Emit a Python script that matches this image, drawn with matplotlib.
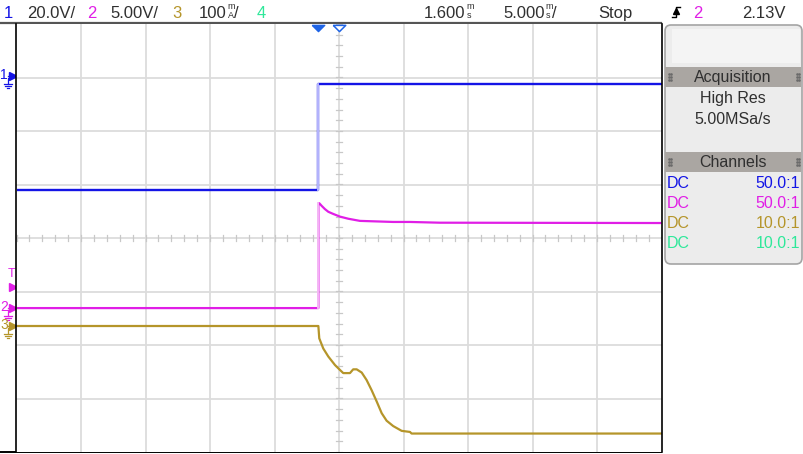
"""
Scope capture: SSR MOSFET pair switching, VGS and relay coil current.
"""

import numpy as np
import matplotlib
matplotlib.use("Agg")
import matplotlib.pyplot as plt
from matplotlib.patches import FancyBboxPatch, Rectangle


# scope settings
TIME_PER_DIV = 5.0      # ms/div
TIME_DELAY = 1.6        # ms at screen centre
CH1_SCALE = 20.0        # V/div
CH2_SCALE = 5.0         # V/div
CH3_SCALE = 100.0       # mA/div
CH1_OFFSET = 3.03       # ground level, divisions from centre
CH2_OFFSET = -1.31
CH3_OFFSET = -1.645
TRIG_LEVEL = 2.13       # V on channel 2

# channel 1: voltage across SSR MOSFET pair (V)
ch1_time = [-23.4, 0.0, 0.0, 26.6]
ch1_volts = [-42.8, -42.8, -3.0, -3.0]

# channel 2: VGS of MOSFET (V)
ch2_time = [-23.4, 0.0, 0.0, 0.07, 0.26, 0.51, 0.77, 1.15, 1.67, 2.32,
            3.22, 5.80, 7.10, 9.42, 26.6]
ch2_volts = [0.0, 0.0, 9.8, 9.8, 9.55, 9.25, 9.0, 8.8, 8.55, 8.35,
             8.15, 8.05, 8.05, 7.98, 7.95]

# channel 3: relay coil current (mA)
ch3_time = [-23.4, 0.0, 0.07, 0.38, 0.77, 1.29, 1.67, 1.93, 2.45, 2.70,
            2.97, 3.36, 3.74, 4.13, 4.52, 4.91, 5.29, 5.80, 6.46, 7.10,
            7.23, 26.6]
ch3_ma = [0, 0, -23, -42, -57, -73, -82, -88, -88, -81,
          -81, -87, -101, -120, -141, -163, -177, -187, -196, -198,
          -201, -201]

top_labels = ["20.0V/", "5.00V/", "100", "4"]
channel_coupling = ["DC", "DC", "DC", "DC"]
channel_probe = ["50.0:1", "50.0:1", "10.0:1", "10.0:1"]

BLUE = "#1414e6"
BLUE_LIGHT = "#c4c4ff"
MAGENTA = "#e01ee6"
MAGENTA_LIGHT = "#f6c2f6"
GOLD = "#b5952a"
GREEN = "#2ee89a"
TEXT = "#303030"
GRID = "#dcdcdc"

UI_FONT = ["Liberation Sans Narrow", "Liberation Sans", "DejaVu Sans"]
LABEL_FONT = ["Liberation Sans", "DejaVu Sans"]


def t_div(t):
    return (np.asarray(t, dtype=float) - TIME_DELAY) / TIME_PER_DIV


def v_div(v, scale, offset):
    return np.asarray(v, dtype=float) / scale + offset


def ground(ax, x, y, color):
    """Small ground symbol under a channel marker."""
    ax.plot([x, x], [y, y + 6], color=color, lw=0.9)
    for i, half in enumerate([4, 2.7, 1.3]):
        ax.plot([x - half, x + half], [y + 6 + 2 * i] * 2, color=color, lw=0.9)


def channel_marker(ax, label, y, color):
    ax.text(4, y - 1, label, color=color, fontsize=10, family=UI_FONT,
            ha="center", va="center")
    ax.plot([8, 12], [y, y], color=color, lw=0.9)
    ax.plot([13.5], [y], marker=">", ms=6, color=color, mec=color)
    ground(ax, 8, y + 2, color)


def right_edge(txt):
    """Right edge of a drawn text, in ui pixel x."""
    bb = txt.get_window_extent(renderer=renderer)
    return ui.transData.inverted().transform((bb.x1, bb.y0))[0]


def unit_stack(x, top, bottom):
    ui.text(x, 9, top, color=TEXT, fontsize=6.5, family=UI_FONT, ha="left")
    ui.text(x, 17.5, bottom, color=TEXT, fontsize=6.5, family=UI_FONT,
            ha="left")
    return x + 6


fig = plt.figure(figsize=(8.04, 4.54), dpi=100)
renderer = fig.canvas.get_renderer()

# pixel-space layer for the scope UI chrome
ui = fig.add_axes([0, 0, 1, 1])
ui.set_xlim(0, 804)
ui.set_ylim(454, 0)
ui.axis("off")

# graticule
ax = fig.add_axes([16.5 / 804, 2 / 454, 645 / 804, 428 / 454])
ax.set_xlim(-5, 5)
ax.set_ylim(-4, 4)
ax.set_xticks([])
ax.set_yticks([])
for side in ["top", "bottom"]:
    ax.spines[side].set_visible(False)
for side in ["left", "right"]:
    ax.spines[side].set_color("black")
    ax.spines[side].set_linewidth(1.2)

for x in range(-4, 5):
    ax.axvline(x, color=GRID, lw=1.3, zorder=0)
for y in range(-3, 4):
    ax.axhline(y, color=GRID, lw=1.3, zorder=0)
for x in np.arange(-5, 5.01, 0.2):
    ax.plot([x, x], [-0.06, 0.06], color="#c8c8c8", lw=0.9, zorder=0)
for y in np.arange(-4, 4.01, 0.2):
    ax.plot([-0.05, 0.05], [y, y], color="#c8c8c8", lw=0.9, zorder=0)

# traces
x1, y1 = t_div(ch1_time), v_div(ch1_volts, CH1_SCALE, CH1_OFFSET)
ax.plot(x1, y1, color=BLUE, lw=1.7, solid_capstyle="butt")
ax.plot(x1[1:3], y1[1:3], color=BLUE_LIGHT, lw=1.3)

x2, y2 = t_div(ch2_time), v_div(ch2_volts, CH2_SCALE, CH2_OFFSET)
ax.plot(x2, y2, color=MAGENTA, lw=1.6, solid_capstyle="butt")
ax.plot(x2[1:3], y2[1:3], color=MAGENTA_LIGHT, lw=1.3)

x3, y3 = t_div(ch3_time), v_div(ch3_ma, CH3_SCALE, CH3_OFFSET)
ax.plot(x3, y3, color=GOLD, lw=1.6)

# trigger point and delay reference at the top edge
tri = [(-1, 0.5), (1, 0.5), (0, -0.5), (-1, 0.5)]
ax.plot(t_div([0.0]), [3.92], marker=tri, ms=9, color="#1e64e6",
        clip_on=False, zorder=5)
ax.plot(t_div([TIME_DELAY]), [3.92], marker=tri, ms=9, mfc="white",
        mec="#1e64e6", mew=1.1, clip_on=False, zorder=5)

# frame lines
ui.plot([0, 661], [23, 23], color="#555555", lw=1.6)
ui.plot([0, 661], [452, 452], color="black", lw=1.4)

# trace annotations
ui.text(333, 110, "Voltage across SSR MOSFET pair", fontsize=13.7,
        family=LABEL_FONT, color="black", zorder=6)
ui.text(56, 293, "VGS of MOSFET", fontsize=13.7, family=LABEL_FONT,
        color="black", zorder=6)
ui.text(435, 419, "Relay coil current", fontsize=13.7, family=LABEL_FONT,
        color="black", zorder=6)

# status bar
fs = 12
base = 18
ui.text(8, base, "1", color=BLUE, fontsize=fs, family=UI_FONT, ha="center")
ui.text(27, base, top_labels[0], color=TEXT, fontsize=fs, family=UI_FONT)
ui.text(92, base, "2", color=MAGENTA, fontsize=fs, family=UI_FONT, ha="center")
ui.text(110, base, top_labels[1], color=TEXT, fontsize=fs, family=UI_FONT)
ui.text(177, base, "3", color=GOLD, fontsize=fs, family=UI_FONT, ha="center")
t = ui.text(199, base, top_labels[2], color=TEXT, fontsize=fs, family=UI_FONT)
x = unit_stack(right_edge(t) + 1, "m", "A")
ui.text(x, base, "/", color=TEXT, fontsize=fs, family=UI_FONT)
ui.text(261, base, top_labels[3], color=GREEN, fontsize=fs, family=UI_FONT,
        ha="center")

t = ui.text(424, base, f"{TIME_DELAY:.3f}", color=TEXT, fontsize=fs,
            family=UI_FONT)
unit_stack(right_edge(t) + 1, "m", "s")
t = ui.text(503, base, f"{TIME_PER_DIV:.3f}", color=TEXT, fontsize=fs,
            family=UI_FONT)
x = unit_stack(right_edge(t) + 1, "m", "s")
ui.text(x, base, "/", color=TEXT, fontsize=fs, family=UI_FONT)
ui.text(598, base, "Stop", color=TEXT, fontsize=fs, family=UI_FONT)

# rising-edge trigger symbol
ui.plot([672, 676, 676, 680], [17, 17, 7, 7], color="black", lw=1.0)
ui.plot([676], [11], marker="^", ms=4.5, color="black")
ui.text(698, base, "2", color=MAGENTA, fontsize=fs, family=UI_FONT, ha="center")
ui.text(742, base, f"{TRIG_LEVEL:.2f}V", color=TEXT, fontsize=fs,
        family=UI_FONT)

# left-edge channel markers
channel_marker(ui, "1", 76, BLUE)
channel_marker(ui, "2", 308, MAGENTA)
channel_marker(ui, "3", 326, GOLD)
ui.text(12, 274, "T", color=MAGENTA, fontsize=9, family=UI_FONT,
        ha="center", va="center")
ui.plot([13.5], [287], marker=">", ms=6, color=MAGENTA)

# side panel
ui.add_patch(FancyBboxPatch((665, 25), 137, 239,
                            boxstyle="round,pad=0,rounding_size=6",
                            fc="#ececec", ec="#a4a4a4", lw=1.2))
ui.add_patch(Rectangle((672, 29), 128, 34, fc="#f4f4f4", ec="none"))
for top, title in [(67, "Acquisition"), (152, "Channels")]:
    ui.add_patch(Rectangle((665.5, top), 136, 20, fc="#aaa6a2", ec="none"))
    ui.text(733, top + 10.5, title, color=TEXT, fontsize=11.5,
            family=UI_FONT, ha="center", va="center")
    for gx in [669, 797]:
        for dx in [0, 2.5]:
            for dy in [-3, 0, 3]:
                ui.plot([gx + dx], [top + 10 + dy], "s", ms=0.8,
                        color="#6a6a6a")

ui.text(733, 98, "High Res", color=TEXT, fontsize=11.5, family=UI_FONT,
        ha="center", va="center")
ui.text(733, 119, "5.00MSa/s", color=TEXT, fontsize=11.5, family=UI_FONT,
        ha="center", va="center")

row_colors = [BLUE, MAGENTA, GOLD, GREEN]
for i, (cpl, probe) in enumerate(zip(channel_coupling, channel_probe)):
    y = 183 + 20.3 * i
    ui.text(667, y, cpl, color=row_colors[i], fontsize=11.5, family=UI_FONT,
            va="center")
    ui.text(800, y, probe, color=row_colors[i], fontsize=11.5,
            family=UI_FONT, ha="right", va="center")

fig.savefig("out.png", dpi=100)
